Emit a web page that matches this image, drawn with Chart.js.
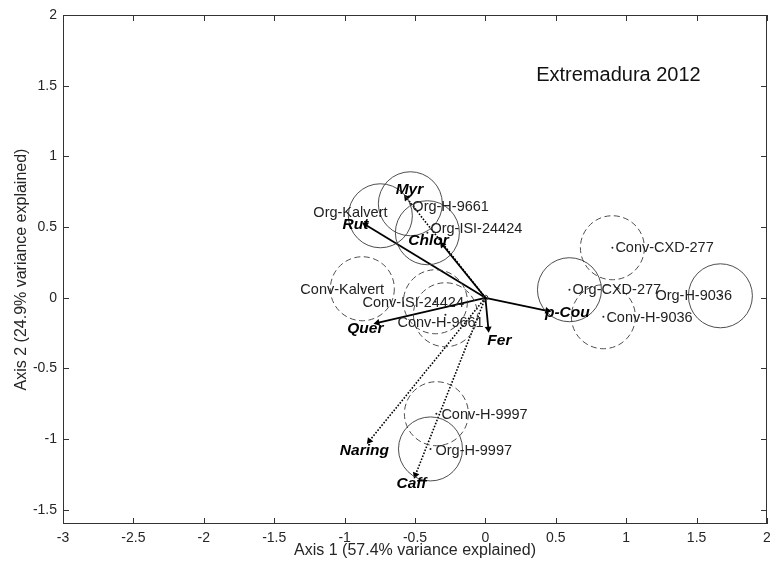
<!DOCTYPE html>
<html>
<head>
<meta charset="utf-8">
<script src="https://cdn.jsdelivr.net/npm/chart.js@4/dist/chart.umd.min.js"></script>
<style>
html, body { margin: 0; padding: 0; background: #fff; }
#wrap { width: 770px; height: 575px; }
</style>
</head>
<body>
<div id="wrap"><canvas id="biplot"></canvas></div>
<script>
// sample scores on the two axes
const sampleNames = ['Org-Kalvert', 'Org-H-9661', 'Org-ISI-24424', 'Conv-Kalvert', 'Conv-ISI-24424', 'Conv-H-9661',
    'Conv-CXD-277', 'Org-CXD-277', 'Conv-H-9036', 'Org-H-9036', 'Conv-H-9997', 'Org-H-9997'];
const sampleX = [-0.746, -0.533, -0.412, -0.874, -0.355, -0.284, 0.902, 0.597, 0.838, 1.669, -0.348, -0.390];
const sampleY = [0.580, 0.665, 0.460, 0.064, -0.028, -0.120, 0.354, 0.057, -0.134, 0.014, -0.820, -1.069];
const sampleOrganic = [true, true, true, false, false, false, false, true, false, true, false, true];

// compound loadings (arrows from origin)
const varNames = ['Rut', 'Myr', 'Chlor', 'Quer', 'Fer', 'p-Cou', 'Naring', 'Caff'];
const varX = [-0.852, -0.561, -0.305, -0.767, 0.021, 0.440, -0.824, -0.497];
const varY = [0.517, 0.708, 0.375, -0.177, -0.219, -0.092, -1.012, -1.253];
const varDotted = [false, true, false, false, false, false, true, true];

const xTicks = [-3, -2.5, -2, -1.5, -1, -0.5, 0, 0.5, 1, 1.5, 2];
const yTicks = [-1.5, -1, -0.5, 0, 0.5, 1, 1.5, 2];

const plotTitle = 'Extremadura 2012';

// label placement (pixel offsets from the point)
const sampleLabelOffset = [[-67, -3], [2, 3], [3, -4], [-62, 1], [-73, 1], [-48, 8],
    [3, 0], [3, 0], [3, 1], [-65, 0], [5, 1], [5, 2]];
const varLabelOffset = [[-10, 0], [3, -8], [-14, -4], [-12, 6], [11, 12], [20, 2], [-5, 10], [-4, 9]];

const FONT = '"Liberation Sans", Arial, sans-serif';
const circleR = 32;

function pts(filter) {
    const out = [];
    for (let i = 0; i < sampleX.length; i++) {
        if (filter(i)) out.push({x: sampleX[i], y: sampleY[i]});
    }
    return out;
}

const datasets = [];
datasets.push({
    data: pts(i => sampleOrganic[i]),
    pointRadius: circleR, pointStyle: 'circle',
    borderColor: '#3a3a3a', borderWidth: 0.9, backgroundColor: 'rgba(0,0,0,0)'
});
datasets.push({
    data: pts(i => !sampleOrganic[i]),
    pointRadius: circleR, pointStyle: 'circle', circleDash: [6, 3.5],
    borderColor: '#3a3a3a', borderWidth: 0.9, backgroundColor: 'rgba(0,0,0,0)'
});
datasets.push({
    data: pts(i => true),
    pointRadius: 1, borderWidth: 0, backgroundColor: '#222'
});

function arrowRotation(ctx) {
    const ds = ctx.dataset.data;
    const sx = ctx.chart.scales.x, sy = ctx.chart.scales.y;
    const dx = sx.getPixelForValue(ds[1].x) - sx.getPixelForValue(ds[0].x);
    const dy = sy.getPixelForValue(ds[1].y) - sy.getPixelForValue(ds[0].y);
    return Math.atan2(dx, -dy) * 180 / Math.PI;
}

varNames.forEach((n, i) => {
    datasets.push({
        data: [{x: 0, y: 0}, {x: varX[i], y: varY[i]}],
        showLine: true,
        borderColor: '#000',
        borderWidth: varDotted[i] ? 1.6 : 1.8,
        borderDash: varDotted[i] ? [1.6, 1.6] : [],
        pointRadius: [0, 4],
        pointStyle: 'triangle',
        pointRotation: arrowRotation,
        pointBackgroundColor: '#000',
        pointBorderWidth: 0
    });
});

const dashPlugin = {
    id: 'dashCircles',
    beforeDatasetDraw(chart, args) {
        const ds = chart.data.datasets[args.index];
        if (ds.circleDash) {
            chart.ctx.save();
            chart.ctx.setLineDash(ds.circleDash);
        }
    },
    afterDatasetDraw(chart, args) {
        const ds = chart.data.datasets[args.index];
        if (ds.circleDash) chart.ctx.restore();
    }
};

const framePlugin = {
    id: 'frame',
    afterDatasetsDraw(chart) {
        const ctx = chart.ctx;
        const a = chart.chartArea;
        const sx = chart.scales.x, sy = chart.scales.y;
        ctx.save();
        ctx.strokeStyle = '#333';
        ctx.lineWidth = 1;
        ctx.strokeRect(a.left + 0.5, a.top + 0.5, a.right - a.left - 1, a.bottom - a.top - 1);
        ctx.beginPath();
        xTicks.forEach(v => {
            const px = Math.round(sx.getPixelForValue(v)) + 0.5;
            ctx.moveTo(px, a.bottom); ctx.lineTo(px, a.bottom - 6);
            ctx.moveTo(px, a.top); ctx.lineTo(px, a.top + 6);
        });
        yTicks.forEach(v => {
            const py = Math.round(sy.getPixelForValue(v)) + 0.5;
            ctx.moveTo(a.left, py); ctx.lineTo(a.left + 6, py);
            ctx.moveTo(a.right, py); ctx.lineTo(a.right - 6, py);
        });
        ctx.stroke();

        // sample labels
        ctx.fillStyle = '#222';
        ctx.font = '14.5px ' + FONT;
        ctx.textAlign = 'left';
        ctx.textBaseline = 'middle';
        sampleNames.forEach((n, i) => {
            const px = sx.getPixelForValue(sampleX[i]) + sampleLabelOffset[i][0];
            const py = sy.getPixelForValue(sampleY[i]) + sampleLabelOffset[i][1];
            ctx.fillText(n, px, py);
        });

        // compound labels
        ctx.fillStyle = '#000';
        ctx.font = 'italic bold 15.5px ' + FONT;
        ctx.textAlign = 'center';
        varNames.forEach((n, i) => {
            const px = sx.getPixelForValue(varX[i]) + varLabelOffset[i][0];
            const py = sy.getPixelForValue(varY[i]) + varLabelOffset[i][1];
            ctx.fillText(n, px, py);
        });

        // origin marker
        ctx.beginPath();
        ctx.arc(sx.getPixelForValue(0), sy.getPixelForValue(0), 2.5, 0, Math.PI * 2);
        ctx.lineWidth = 1;
        ctx.stroke();

        ctx.font = '20px ' + FONT;
        ctx.fillStyle = '#111';
        ctx.fillText(plotTitle, sx.getPixelForValue(0.945), sy.getPixelForValue(1.57));
        ctx.restore();
    }
};

new Chart(document.getElementById('biplot'), {
    type: 'scatter',
    data: {datasets: datasets},
    plugins: [dashPlugin, framePlugin],
    options: {
        responsive: true,
        maintainAspectRatio: false,
        animation: false,
        layout: {autoPadding: false, padding: {top: 15, right: 3, left: 0, bottom: 0}},
        plugins: {legend: {display: false}, tooltip: {enabled: false}},
        scales: {
            x: {
                type: 'linear', min: -3, max: 2,
                grid: {display: false, drawTicks: false}, border: {display: false},
                afterBuildTicks: s => { s.ticks = xTicks.map(v => ({value: v})); },
                afterFit: s => { s.height = 51; s.paddingLeft = 0; s.paddingRight = 0; },
                ticks: {color: '#262626', padding: 6, maxRotation: 0, font: {family: FONT, size: 14},
                    callback: v => String(v)},
                title: {display: true, text: 'Axis 1 (57.4% variance explained)', color: '#262626',
                    font: {family: FONT, size: 16}, padding: {top: 0, bottom: 15}}
            },
            y: {
                type: 'linear', min: -1.6, max: 2,
                grid: {display: false, drawTicks: false}, border: {display: false},
                afterBuildTicks: s => { s.ticks = yTicks.map(v => ({value: v})); },
                afterFit: s => { s.width = 63; s.paddingTop = 0; s.paddingBottom = 0; },
                ticks: {color: '#262626', padding: 6, font: {family: FONT, size: 14},
                    callback: v => String(v)},
                title: {display: true, text: 'Axis 2 (24.9% variance explained)', color: '#262626',
                    font: {family: FONT, size: 16}, padding: {top: 12, bottom: 0}}
            }
        }
    }
});
</script>
</body>
</html>
